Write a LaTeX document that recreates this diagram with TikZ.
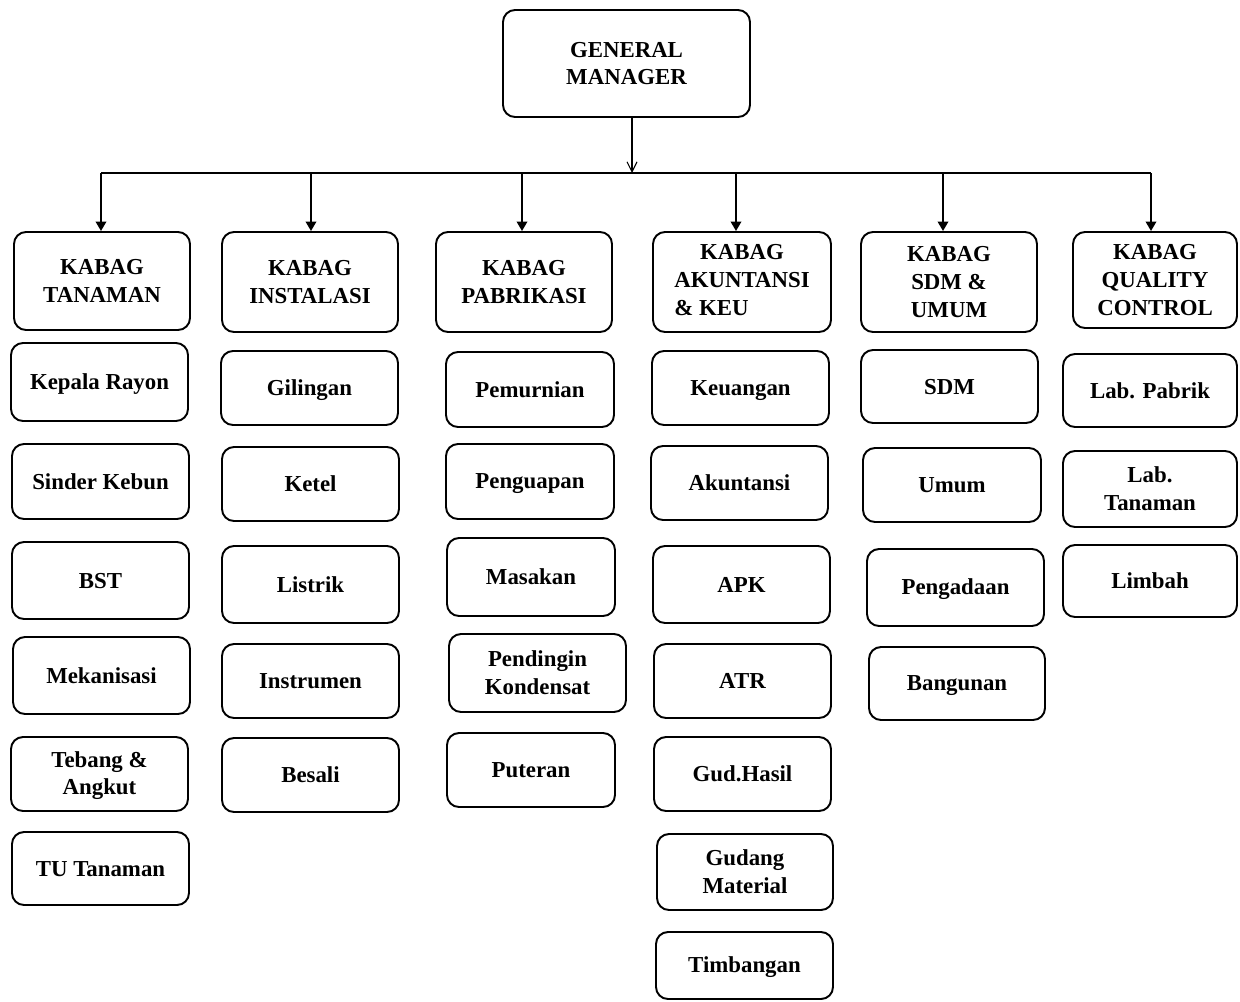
\documentclass[tikz,border=0pt]{standalone}
\usepackage{fontspec}
\setmainfont{Liberation Serif}
\usetikzlibrary{arrows.meta}
\newcommand\orgbox[6]{\node[box, minimum width={(#4-#2)*0.02cm}, minimum height={(#5-#3)*0.02cm}] (#1) at ({(#2+#4)/2},{(#3+#5)/2}) {\rule{0pt}{11pt}#6\rule[-2.4pt]{0pt}{0pt}};}
\begin{document}
\begin{tikzpicture}[x=0.02cm,y=-0.02cm,
 box/.style={draw, line width=1.1pt, rounded corners=0.24cm, fill=white, inner sep=0pt, align=center, font=\bfseries\fontsize{13}{15.7}\selectfont},
 drop/.style={line width=1.1pt, -{Triangle[width=0.21cm,length=0.19cm]}},
 thinline/.style={line width=0.6pt},
 gmarrow/.style={line width=0.6pt, -{Straight Barb[width=0.2cm,length=0.2cm]}}]
\useasboundingbox (0,0) rectangle (1240,1001);

% top
\orgbox{gm}{503}{10}{750}{117}{GENERAL\\MANAGER}

% level 1
\orgbox{k1}{14}{232}{190}{330}{KABAG\\TANAMAN}
\orgbox{k2}{222}{232}{398}{332}{KABAG\\INSTALASI}
\orgbox{k3}{436}{232}{612}{332}{KABAG\\PABRIKASI}
\orgbox{k4}{653}{232}{831}{332}{\begin{tabular}{@{}l@{}}\multicolumn{1}{@{}c@{}}{KABAG}\\AKUNTANSI\\\& KEU\end{tabular}}
\orgbox{k5}{861}{232}{1037}{332}{KABAG\\SDM \&\\UMUM}
\orgbox{k6}{1073}{232}{1237}{328}{KABAG\\QUALITY\\CONTROL}

% column 1
\orgbox{a1}{11}{343}{188}{421}{Kepala Rayon}
\orgbox{a2}{12}{444}{189}{519}{Sinder Kebun}
\orgbox{a3}{12}{542}{189}{619}{BST}
\orgbox{a4}{13}{637}{190}{714}{Mekanisasi}
\orgbox{a5}{11}{737}{188}{811}{Tebang \&\\Angkut}
\orgbox{a6}{12}{832}{189}{905}{TU Tanaman}

% column 2
\orgbox{b1}{221}{351}{398}{425}{Gilingan}
\orgbox{b2}{222}{447}{399}{521}{Ketel}
\orgbox{b3}{222}{546}{399}{623}{Listrik}
\orgbox{b4}{222}{644}{399}{718}{Instrumen}
\orgbox{b5}{222}{738}{399}{812}{Besali}

% column 3
\orgbox{c1}{446}{352}{614}{427}{Pemurnian}
\orgbox{c2}{446}{444}{614}{519}{Penguapan}
\orgbox{c3}{447}{538}{615}{616}{Masakan}
\orgbox{c4}{449}{634}{626}{712}{Pendingin\\Kondensat}
\orgbox{c5}{447}{733}{615}{807}{Puteran}

% column 4
\orgbox{d1}{652}{351}{829}{425}{Keuangan}
\orgbox{d2}{651}{446}{828}{520}{Akuntansi}
\orgbox{d3}{653}{546}{830}{623}{APK}
\orgbox{d4}{654}{644}{831}{718}{ATR}
\orgbox{d5}{654}{737}{831}{811}{Gud.Hasil}
\orgbox{d6}{657}{834}{833}{910}{Gudang\\Material}
\orgbox{d7}{656}{932}{833}{999}{Timbangan}

% column 5
\orgbox{e1}{861}{350}{1038}{423}{SDM}
\orgbox{e2}{863}{448}{1041}{522}{Umum}
\orgbox{e3}{867}{549}{1044}{626}{Pengadaan}
\orgbox{e4}{869}{647}{1045}{720}{Bangunan}

% column 6
\orgbox{f1}{1063}{354}{1237}{427}{Lab. Pabrik}
\orgbox{f2}{1063}{451}{1237}{527}{Lab.\\Tanaman}
\orgbox{f3}{1063}{545}{1237}{617}{Limbah}

% connectors
\coordinate (j) at (632,173);
\coordinate (p1) at (101,173);
\coordinate (p2) at (311,173);
\coordinate (p3) at (522,173);
\coordinate (p4) at (736,173);
\coordinate (p5) at (943,173);
\coordinate (p6) at (1151,173);
\draw[gmarrow] (gm.south -| j) -- (j);
\draw[thinline] (p1) -- (p6);
\draw[drop] (p1) -- (k1.north -| p1);
\draw[drop] (p2) -- (k2.north -| p2);
\draw[drop] (p3) -- (k3.north -| p3);
\draw[drop] (p4) -- (k4.north -| p4);
\draw[drop] (p5) -- (k5.north -| p5);
\draw[drop] (p6) -- (k6.north -| p6);
\end{tikzpicture}
\end{document}
